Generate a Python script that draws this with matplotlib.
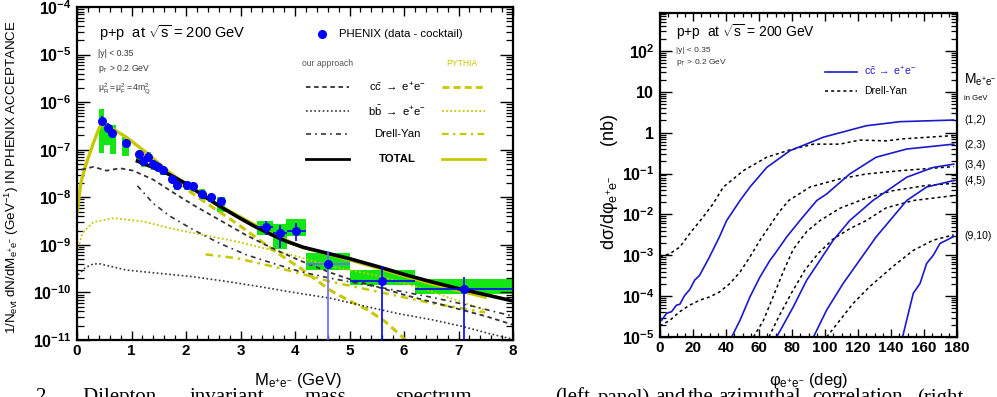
import numpy as np
import matplotlib
matplotlib.use('Agg')
import matplotlib.pyplot as plt
import matplotlib.ticker as mticker
from matplotlib.patches import Rectangle

plt.rcParams['font.family'] = ['Liberation Sans', 'DejaVu Sans']
plt.rcParams['mathtext.fontset'] = 'custom'
plt.rcParams['mathtext.rm'] = 'Liberation Sans'
plt.rcParams['mathtext.it'] = 'Liberation Sans:italic'
plt.rcParams['mathtext.bf'] = 'Liberation Sans:bold'
plt.rcParams['mathtext.sf'] = 'Liberation Sans'

# ---------------- left panel: PHENIX data (data - cocktail) ----------------
data_m = [0.45, 0.56, 0.65, 0.89, 1.13, 1.22, 1.31, 1.40, 1.49, 1.58, 1.74, 1.83,
          2.01, 2.13, 2.29, 2.46, 2.64, 3.46, 3.72, 4.02, 4.6, 5.6, 7.1]
data_y = [4.0e-7, 2.8e-7, 2.2e-7, 1.4e-7, 8.1e-8, 5.9e-8, 7.2e-8, 5.0e-8, 4.4e-8,
          3.8e-8, 2.4e-8, 1.8e-8, 1.8e-8, 1.7e-8, 1.2e-8, 1.0e-8, 8.2e-9, 2.4e-9,
          1.8e-9, 2.0e-9, 4.0e-10, 1.7e-10, 1.2e-10]
# statistical error bar ends
stat_lo = [3.2e-7, 2.2e-7, 1.75e-7, 1.15e-7, 6.6e-8, 4.8e-8, 5.9e-8, 4.1e-8, 3.6e-8,
           3.1e-8, 2.0e-8, 1.5e-8, 1.5e-8, 1.4e-8, 1.0e-8, 8.3e-9, 6.7e-9, 1.6e-9,
           8.5e-10, 1.2e-9, 1e-13, 1e-13, 1e-13]
stat_hi = [5.0e-7, 3.6e-7, 2.8e-7, 1.7e-7, 9.9e-8, 7.2e-8, 8.8e-8, 6.1e-8, 5.4e-8,
           4.6e-8, 2.9e-8, 2.2e-8, 2.2e-8, 2.1e-8, 1.45e-8, 1.2e-8, 1.0e-8, 3.1e-9,
           2.6e-9, 2.9e-9, 7.6e-10, 3.6e-10, 2.1e-10]
# horizontal error bar ends
bin_lo = [0.41, 0.52, 0.61, 0.85, 1.09, 1.18, 1.27, 1.36, 1.45, 1.54, 1.70, 1.79,
          1.97, 2.09, 2.25, 2.42, 2.60, 3.30, 3.60, 3.85, 4.21, 5.0, 6.2]
bin_hi = [0.49, 0.60, 0.69, 0.93, 1.17, 1.26, 1.35, 1.44, 1.53, 1.62, 1.78, 1.87,
          2.05, 2.17, 2.33, 2.50, 2.68, 3.60, 3.85, 4.20, 5.0, 6.2, 8.0]
# systematic boxes
sys_mlo = [0.40, 0.50, 0.60, 0.82, 1.08, 1.17, 1.26, 1.35, 1.44, 1.53, 1.69, 1.78,
           1.96, 2.08, 2.23, 2.40, 2.57, 3.30, 3.60, 3.84, 4.21, 5.0, 6.2]
sys_mhi = [0.50, 0.61, 0.71, 0.96, 1.17, 1.27, 1.36, 1.45, 1.54, 1.63, 1.79, 1.88,
           2.06, 2.18, 2.35, 2.52, 2.72, 3.60, 3.85, 4.20, 5.0, 6.2, 8.0]
sys_lo = [8.7e-8, 1.26e-7, 8.1e-8, 7.4e-8, 5.6e-8, 4.4e-8, 5.6e-8, 3.8e-8, 3.5e-8,
          3.0e-8, 2.0e-8, 1.45e-8, 1.45e-8, 1.3e-8, 8.9e-9, 7.8e-9, 5.0e-9, 1.6e-9,
          8.3e-10, 1.5e-9, 2.95e-10, 1.4e-10, 9.3e-11]
sys_hi = [7.1e-7, 3.5e-7, 3.3e-7, 1.86e-7, 9.1e-8, 7.2e-8, 8.9e-8, 6.2e-8, 5.2e-8,
          4.4e-8, 3.0e-8, 2.1e-8, 2.2e-8, 2.0e-8, 1.5e-8, 1.2e-8, 1.0e-8, 3.1e-9,
          2.75e-9, 3.5e-9, 6.8e-10, 2.9e-10, 1.95e-10]

# curves, log10 of yield
cc_our_m = [0.08, 0.30, 0.54, 0.79, 1.03, 1.40, 1.71, 2.13, 2.62, 3.11, 3.60, 4.09,
            4.64, 5.0, 5.56, 6.0, 6.84, 7.5, 8.0]
cc_our_lg = [-7.42, -7.36, -7.44, -7.39, -7.44, -7.63, -7.86, -8.16, -8.48, -8.80,
             -9.08, -9.33, -9.58, -9.72, -9.90, -10.05, -10.30, -10.50, -10.68]
bb_our_m = [0.02, 0.15, 0.30, 0.42, 0.91, 1.52, 2.13, 2.75, 3.36, 3.97, 4.64, 5.32,
            5.87, 6.54, 7.09, 7.58, 7.95]
bb_our_lg = [-9.63, -9.48, -9.40, -9.40, -9.53, -9.60, -9.67, -9.77, -9.88, -10.0,
             -10.12, -10.30, -10.44, -10.58, -10.72, -10.87, -10.97]
dy_our_m = [1.11, 1.40, 1.71, 2.13, 2.62, 3.11, 3.60, 4.09, 4.64, 5.5, 6.5, 7.3, 8.0]
dy_our_lg = [-7.76, -8.13, -8.40, -8.68, -8.97, -9.21, -9.39, -9.56, -9.70, -9.88,
             -10.10, -10.30, -10.50]
tot_our_m = [1.11, 1.5, 1.71, 2.01, 2.32, 2.62, 2.93, 3.24, 3.54, 3.85, 4.15, 4.64,
             5.0, 5.56, 6.0, 6.48, 7.0, 7.39, 8.0]
tot_our_lg = [-7.24, -7.42, -7.53, -7.72, -7.97, -8.19, -8.40, -8.60, -8.77, -8.93,
              -9.05, -9.19, -9.29, -9.47, -9.62, -9.77, -9.92, -10.02, -10.18]

cc_py_m = [1.20, 1.50, 1.71, 2.07, 2.50, 2.93, 3.60, 4.15, 4.64, 4.97, 5.34, 5.65,
           5.93, 6.02]
cc_py_lg = [-7.03, -7.30, -7.52, -7.88, -8.22, -8.55, -9.11, -9.53, -9.95, -10.16,
            -10.37, -10.61, -10.89, -11.0]
bb_py_m = [0.0, 0.1, 0.3, 0.67, 1.22, 1.71, 2.13, 2.93, 4.1, 4.64, 5.62, 6.5, 7.51]
bb_py_lg = [-9.15, -8.75, -8.52, -8.44, -8.51, -8.65, -8.75, -8.93, -9.26, -9.45,
            -9.67, -9.98, -10.38]
dy_py_m = [2.36, 2.93, 3.54, 4.09, 4.64, 5.5, 6.48, 7.49]
dy_py_lg = [-9.20, -9.28, -9.44, -9.60, -9.77, -9.98, -10.22, -10.42]
tot_py_m = [0.005, 0.07, 0.15, 0.30, 0.42, 0.51, 0.91, 1.28, 1.71, 2.01, 2.44, 2.75,
            3.5, 4.15, 4.64, 5.56, 6.48, 7.49]
tot_py_lg = [-8.30, -7.70, -7.36, -6.86, -6.51, -6.46, -6.74, -7.07, -7.49, -7.74,
             -8.05, -8.26, -8.73, -9.06, -9.20, -9.50, -9.81, -10.10]

# ---------------- right panel: azimuthal correlations ----------------
bins = ['(1,2)', '(2,3)', '(3,4)', '(4,5)', '(9,10)']
cc_phi = [
    [1, 4, 7, 10, 12, 15, 18, 21, 24, 30, 36, 40.4, 48.5, 54.5, 64.7, 78.8, 99, 125,
     145.5, 178],
    [43.4, 48.5, 54.5, 60.6, 66.7, 69.7, 76.8, 84.8, 95, 101, 115, 131, 149.5, 178],
    [70.7, 80.8, 88.9, 97, 105, 115, 129, 133, 149.5, 165.6, 178],
    [93, 101, 111, 121, 131, 141, 149.5, 161.6, 178],
    [147, 153.5, 157.6, 161.6, 165.6, 169.7, 173.7, 178],
]
cc_lg = [
    [-4.59, -4.42, -4.38, -4.22, -4.20, -3.98, -3.84, -3.61, -3.49, -3.04, -2.55,
     -2.15, -1.66, -1.33, -0.85, -0.44, -0.11, 0.17, 0.27, 0.31],
    [-5.0, -4.59, -4.02, -3.53, -3.12, -2.96, -2.55, -2.15, -1.66, -1.50, -1.01,
     -0.60, -0.40, -0.28],
    [-5.0, -4.26, -3.61, -3.12, -2.63, -2.15, -1.66, -1.55, -1.09, -0.85, -0.77],
    [-5.0, -4.34, -3.69, -3.12, -2.55, -2.07, -1.66, -1.33, -1.17],
    [-5.0, -3.93, -3.69, -3.20, -3.0, -2.71, -2.63, -2.54],
]
dy_phi = [
    [0, 6, 12, 18, 26, 32, 38.4, 50.5, 64.7, 78.8, 93, 109, 121, 137, 147.5, 178],
    [0, 6, 12, 18, 24, 30, 36, 42.4, 48.5, 54.5, 60.6, 66.7, 72, 78, 90.9, 109, 125,
     145.5, 178],
    [56.6, 62.6, 68.7, 74.7, 80.8, 88.9, 97, 109, 125, 141, 161.6, 178],
    [66, 72, 80, 88, 96, 105, 115, 125, 137, 153.5, 178],
    [101, 109, 117, 127, 141, 153.5, 165.6, 178],
]
dy_lg = [
    [-3.04, -2.96, -2.80, -2.47, -2.07, -1.75, -1.33, -0.93, -0.60, -0.42, -0.28,
     -0.28, -0.18, -0.20, -0.15, -0.07],
    [-4.73, -4.59, -4.38, -4.22, -4.10, -4.02, -3.90, -3.69, -3.41, -3.04, -2.63,
     -2.27, -1.95, -1.66, -1.33, -1.13, -1.01, -0.93, -0.83],
    [-5.0, -4.6, -4.0, -3.4, -2.85, -2.42, -2.15, -1.85, -1.60, -1.42, -1.29, -1.24],
    [-5.0, -4.5, -3.9, -3.35, -2.95, -2.6, -2.35, -2.15, -1.84, -1.66, -1.54],
    [-5.0, -4.59, -4.18, -3.77, -3.28, -2.88, -2.63, -2.50],
]

# caption line cut by the lower edge of the picture (justified, so words spread)
caption_words = ['2.      Dilepton', 'invariant', 'mass', 'spectrum', '(left', 'panel)',
                 'and', 'the', 'azimuthal', 'correlation', '(right']
caption_x = [36, 190, 305, 395, 555, 598, 655, 688, 718, 812, 917]

W, H = 997, 397
LEFT_BOX = (77, 7, 513, 340)
RIGHT_BOX = (660, 13, 957, 337)
YELLOW = '#c8c800'
GREEN = '#14e614'
BLUE = '#0000ff'
NAVY = '#1a1acc'
GREY = '#333333'


def axes_rect(box):
    l, t, r, b = box
    return [l / W, 1 - b / H, (r - l) / W, (b - t) / H]


def to_ax(box, px, py):
    l, t, r, b = box
    return (px - l) / (r - l), (b - py) / (b - t)


def log_label(v, pos):
    e = int(round(np.log10(v)))
    if e == 0:
        return r'$\mathbf{1}$'
    if e == 1:
        return r'$\mathbf{10}$'
    return r'$\mathbf{10^{%d}}$' % e


def root_style(ax, ymaj, ymin, xmaj, xmin):
    for sp in ax.spines.values():
        sp.set_linewidth(1.6)
    ax.yaxis.set_major_locator(mticker.LogLocator(base=10, numticks=30))
    ax.yaxis.set_minor_locator(mticker.LogLocator(base=10, subs=np.arange(2, 10),
                                                  numticks=30))
    ax.yaxis.set_major_formatter(mticker.FuncFormatter(log_label))
    ax.yaxis.set_minor_formatter(mticker.NullFormatter())
    ax.tick_params(axis='y', which='major', direction='in', length=ymaj, width=1.0,
                   left=True, right=True, labelsize=11.5, pad=4)
    ax.tick_params(axis='y', which='minor', direction='in', length=ymin, width=0.9,
                   left=True, right=True)
    ax.tick_params(axis='x', which='major', direction='in', length=xmaj, width=1.0,
                   top=True, bottom=True, labelsize=11, pad=3)
    ax.tick_params(axis='x', which='minor', direction='in', length=xmin, width=0.9,
                   top=True, bottom=True)
    for lab in ax.get_xticklabels():
        lab.set_fontweight('bold')


fig = plt.figure(figsize=(W / 100, H / 100), dpi=100)

# ======================= left panel =======================
ax1 = fig.add_axes(axes_rect(LEFT_BOX))
ax1.set_yscale('log')
ax1.set_xlim(0, 8)
ax1.set_ylim(1e-11, 1e-4)

for m0, m1, y0, y1 in zip(sys_mlo, sys_mhi, sys_lo, sys_hi):
    ax1.add_patch(Rectangle((m0, y0), m1 - m0, y1 - y0, facecolor=GREEN,
                            edgecolor='none', zorder=1))

ax1.plot(bb_py_m, 10 ** np.array(bb_py_lg), color=YELLOW, lw=1.3, ls=(0, (1, 1.3)), zorder=2)
ax1.plot(dy_py_m, 10 ** np.array(dy_py_lg), color=YELLOW, lw=1.8, ls=(0, (3, 2, 1, 2)), zorder=2)
ax1.plot(cc_py_m, 10 ** np.array(cc_py_lg), color=YELLOW, lw=2.2, ls=(0, (2.5, 1.5)), zorder=2)
ax1.plot(tot_py_m, 10 ** np.array(tot_py_lg), color=YELLOW, lw=2.4, zorder=2)
ax1.plot(bb_our_m, 10 ** np.array(bb_our_lg), color=GREY, lw=1.2, ls=(0, (1, 1.5)), zorder=2)
ax1.plot(dy_our_m, 10 ** np.array(dy_our_lg), color=GREY, lw=1.2, ls=(0, (3, 2.5, 1, 2.5)), zorder=2)
ax1.plot(cc_our_m, 10 ** np.array(cc_our_lg), color=GREY, lw=1.3, ls=(0, (2.5, 2)), zorder=2)
ax1.plot(tot_our_m, 10 ** np.array(tot_our_lg), color='black', lw=2.6, zorder=3)

dm = np.array(data_m)
dy = np.array(data_y)
xerr = np.array([dm - np.array(bin_lo), np.array(bin_hi) - dm])
yerr = np.array([dy - np.array(stat_lo), np.array(stat_hi) - dy])
# the 4.6 GeV point has a paler error bar in the reference
for sl, ecol in [(slice(0, 20), BLUE), (slice(20, 21), '#6a6aff'), (slice(21, 23), BLUE)]:
    ax1.errorbar(dm[sl], dy[sl], xerr=xerr[:, sl], yerr=yerr[:, sl], fmt='o',
                 color=BLUE, ecolor=ecol, ms=5.5, elinewidth=1.2, capsize=0, zorder=4)

ax1.xaxis.set_major_locator(mticker.MultipleLocator(1))
ax1.xaxis.set_minor_locator(mticker.MultipleLocator(0.2))
root_style(ax1, 9.5, 5, 6.5, 3.5)

ax1.set_xlabel(r'M$_{\mathrm{e^{+}e^{-}}}$ (GeV)', fontsize=12)
ax1.xaxis.set_label_coords(0.507, -0.093)
ax1.set_ylabel(r'1/N$_{\mathrm{evt}}$ dN/dM$_{\mathrm{e^{+}e^{-}}}$ (GeV$^{-1}$) IN PHENIX ACCEPTANCE',
               fontsize=9.6)
ax1.yaxis.set_label_coords(-0.128, 0.49)

# annotations
tx = lambda px, py: to_ax(LEFT_BOX, px, py)
ax1.text(*tx(99, 33), r'p+p  at $\sqrt{\mathrm{s}}$ = 200 GeV', fontsize=10.5,
         va='center', transform=ax1.transAxes)
ax1.text(*tx(98, 54), '|y| < 0.35', fontsize=6.2, color='#333333', va='center',
         transform=ax1.transAxes)
ax1.text(*tx(98, 69), r'p$_{\mathrm{T}}$ > 0.2 GeV', fontsize=6.2, color='#333333',
         va='center', transform=ax1.transAxes)
ax1.text(*tx(98, 89), r'$\mathrm{\mu_{R}^{2} = \mu_{F}^{2} = 4m_{Q}^{2}}$', fontsize=6.2,
         color='#333333', va='center', transform=ax1.transAxes)

# legend
ax1.plot(*tx(322, 34), 'o', color=BLUE, ms=5.5, transform=ax1.transAxes, clip_on=False)
ax1.text(*tx(339, 34), 'PHENIX (data - cocktail)', fontsize=8.2, va='center',
         transform=ax1.transAxes)
ax1.text(*tx(328, 64), 'our approach', fontsize=6.2, color='#555555', ha='center',
         va='center', transform=ax1.transAxes)
ax1.text(*tx(462, 64), 'PYTHIA', fontsize=6.2, color=YELLOW, ha='center', va='center',
         transform=ax1.transAxes)
rows = [
    (87, r'c$\bar{\mathrm{c}}$ $\rightarrow$ e$^{+}$e$^{-}$', (0, (2.5, 2)), (0, (2.5, 1.5)), 1.3, 2.0, 'normal'),
    (111, r'b$\bar{\mathrm{b}}$ $\rightarrow$ e$^{+}$e$^{-}$', (0, (1, 1.5)), (0, (1, 1.3)), 1.2, 1.3, 'normal'),
    (134, 'Drell-Yan', (0, (3, 2.5, 1, 2.5)), (0, (3, 2, 1, 2)), 1.2, 1.6, 'normal'),
    (159, 'TOTAL', '-', '-', 2.0, 2.0, 'bold'),
]
for py, label, ls_our, ls_py, lw_our, lw_py, weight in rows:
    (a0, yy), (a1, _) = tx(306, py), tx(349, py)
    ax1.plot([a0, a1], [yy, yy], color='black' if weight == 'bold' else GREY,
             ls=ls_our, lw=lw_our, transform=ax1.transAxes)
    (b0, _), (b1, _) = tx(442, py), tx(485, py)
    ax1.plot([b0, b1], [yy, yy], color=YELLOW, ls=ls_py, lw=lw_py, transform=ax1.transAxes)
    ax1.text(*tx(397, py), label, fontsize=8.2, fontweight=weight, ha='center',
             va='center', transform=ax1.transAxes)

# ======================= right panel =======================
ax2 = fig.add_axes(axes_rect(RIGHT_BOX))
ax2.set_yscale('log')
ax2.set_xlim(0, 180)
ax2.set_ylim(1e-5, 850)
for ph, lg in zip(dy_phi, dy_lg):
    ax2.plot(ph, 10 ** np.array(lg), color='black', lw=1.1, ls=(0, (2, 2)))
for ph, lg in zip(cc_phi, cc_lg):
    ax2.plot(ph, 10 ** np.array(lg), color=NAVY, lw=1.2)

ax2.xaxis.set_major_locator(mticker.MultipleLocator(20))
ax2.xaxis.set_minor_locator(mticker.MultipleLocator(5))
root_style(ax2, 8.5, 4.5, 6, 3)

ax2.set_xlabel(r'$\mathrm{\varphi_{e^{+}e^{-}}}$ (deg)', fontsize=12)
ax2.xaxis.set_label_coords(0.5, -0.104)
ax2.set_ylabel(r'd$\mathrm{\sigma}$/d$\mathrm{\varphi_{e^{+}e^{-}}}$      (nb)', fontsize=13)
ax2.yaxis.set_label_coords(-0.135, 0.48)

rx = lambda px, py: to_ax(RIGHT_BOX, px, py)
ax2.text(*rx(676, 32), r'p+p  at $\sqrt{\mathrm{s}}$ = 200 GeV', fontsize=10,
         va='center', transform=ax2.transAxes)
ax2.text(*rx(676, 51), '|y| < 0.35', fontsize=6, color='#333333', va='center',
         transform=ax2.transAxes)
ax2.text(*rx(676, 63), r'p$_{\mathrm{T}}$ > 0.2 GeV', fontsize=6, color='#333333',
         va='center', transform=ax2.transAxes)
(c0, cy), (c1, _) = rx(825, 72), rx(857, 72)
ax2.plot([c0, c1], [cy, cy], color=NAVY, lw=1.2, transform=ax2.transAxes)
ax2.text(*rx(864, 71), r'c$\bar{\mathrm{c}}$ $\rightarrow$ e$^{+}$e$^{-}$', fontsize=7.5,
         color=NAVY, va='center', transform=ax2.transAxes)
(d0, dyy), (d1, _) = rx(825, 91), rx(857, 91)
ax2.plot([d0, d1], [dyy, dyy], color='black', lw=1.1, ls=(0, (2, 2)),
         transform=ax2.transAxes)
ax2.text(*rx(864, 91), 'Drell-Yan', fontsize=7.5, va='center', transform=ax2.transAxes)

ax2.text(*rx(964, 80), r'M$_{\mathrm{e^{+}e^{-}}}$', fontsize=10, va='center',
         transform=ax2.transAxes)
ax2.text(*rx(964, 99), 'in GeV', fontsize=5.5, va='center', transform=ax2.transAxes)
bin_label_y = [120, 145, 165, 181, 236]
for lab, py in zip(bins, bin_label_y):
    ax2.text(*rx(964, py), lab, fontsize=7.5, va='center', transform=ax2.transAxes)

for word, px in zip(caption_words, caption_x):
    fig.text(px / W, 1 - 388 / H, word, fontsize=15, family='Liberation Serif', va='top')

fig.savefig('out.png', dpi=100)
